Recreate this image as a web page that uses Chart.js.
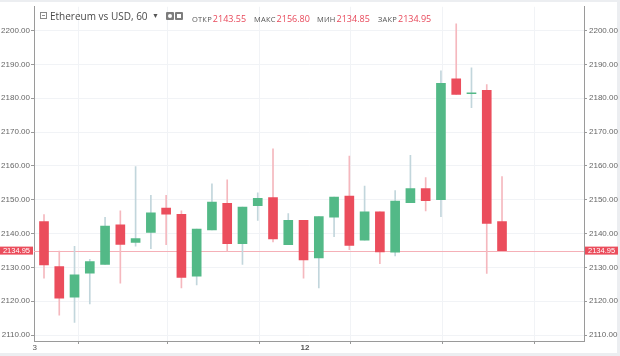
<!DOCTYPE html>
<html><head><meta charset="utf-8">
<script src="https://cdn.jsdelivr.net/npm/chart.js@4"></script>
<style>
html,body{margin:0;padding:0;background:#fff;}
#wrap{position:relative;width:620px;height:356px;overflow:hidden;}
#c{position:absolute;left:0;top:0;}
.h{position:absolute;top:9px;height:14px;line-height:14px;white-space:nowrap;font-family:'Open Sans',sans-serif;}
.title{font-size:10px;color:#4a4a4a;}
.lab{font-size:7.5px;color:#555;letter-spacing:0.2px;}
.val{font-size:9px;color:#e8485a;margin-left:1px;}
.ico{position:absolute;box-sizing:border-box;}
</style></head>
<body>
<div id="wrap">
<canvas id="c" width="620" height="356"></canvas>
<div class="ico" style="left:40px;top:12px;width:7px;height:7px;border:1px solid #8a8a8a;"><div style="position:absolute;left:1px;top:2px;width:3px;height:1px;background:#8a8a8a"></div></div>
<div class="h title" id="title" style="left:50px;"></div>
<div class="h" style="left:152px;font-size:7px;color:#555;">&#9660;</div>
<div class="ico" style="left:166px;top:12px;width:8px;height:8px;background:#7d7d7d;border-radius:1px;"><div style="position:absolute;left:2px;top:2px;width:4px;height:4px;border-radius:2px;background:#fff"></div></div>
<div class="ico" style="left:175px;top:12px;width:8px;height:8px;background:#7d7d7d;border-radius:1px;"><div style="position:absolute;left:2px;top:2px;width:4px;height:4px;background:#fff"></div></div>
<div id="hdr"></div>
</div>
<script>
// ---- data (hourly candles) ----
const opens  = [2143.5,2130.2,2121.2,2128.3,2130.9,2142.6,2137.4,2140.3,2147.5,2145.7,2127.4,2141.1,2148.9,2137.0,2148.2,2150.6,2136.7,2143.9,2132.8,2144.8,2151.1,2138.0,2146.4,2134.5,2149.1,2153.3,2150.0,2185.7,2181.3,2182.3,2143.55];
const highs  = [2145.6,2134.8,2136.2,2132.4,2144.8,2146.7,2159.8,2151.3,2151.3,2146.7,2141.3,2154.7,2155.9,2147.8,2152.0,2165.0,2145.9,2143.9,2145.0,2150.8,2162.9,2154.0,2146.4,2152.7,2163.1,2156.5,2188.1,2202.0,2189.0,2184.0,2156.80];
const lows   = [2126.8,2115.9,2113.7,2119.2,2130.9,2125.3,2136.3,2135.5,2136.7,2123.9,2124.8,2141.1,2134.8,2130.9,2143.9,2137.5,2136.7,2126.8,2123.9,2139.1,2135.2,2138.0,2131.1,2133.4,2149.1,2146.7,2145.0,2181.1,2177.2,2128.2,2134.85];
const closes = [2130.7,2120.9,2127.8,2131.7,2142.2,2136.8,2138.5,2146.1,2145.7,2127.0,2141.3,2149.3,2137.0,2147.8,2150.4,2138.4,2143.9,2132.2,2145.0,2150.8,2136.5,2146.4,2134.6,2149.6,2153.3,2149.7,2184.4,2181.1,2181.6,2143.0,2134.95];
const yTicks = [2110,2120,2130,2140,2150,2160,2170,2180,2190,2200];
const xTickValues = [-0.6,5.1,11.1,17.1,23.1,29.1,35.1];
const xTickLabels = ['3','','','12','','',''];
const xTickBold   = [false,false,false,true,false,false,false];
const titleText = 'Ethereum vs USD, 60';
const headerLabels = ['ОТКР','МАКС','МИН','ЗАКР'];

// ---- styling ----
const UP='#53b987', DN='#eb4d5c', WUP='#c2d6dc', WDN='#f5b8be';
const GRID='#f1f3f6', AXIS='#9a9a9a', TXT='#666';
const Y_MIN=2108.24, Y_MAX=2207.0, X_MIN=-0.655, X_MAX=35.37;

document.getElementById('title').textContent = titleText;
const last = opens.length-1;
const hv = [opens[last],highs[last],lows[last],closes[last]];
const hx = [192,254,317,378];
const hdr = document.getElementById('hdr');
headerLabels.forEach((l,i)=>{
  const d=document.createElement('div'); d.className='h'; d.style.left=hx[i]+'px';
  d.innerHTML='<span class="lab">'+l+'</span><span class="val">'+hv[i].toFixed(2)+'</span>';
  hdr.appendChild(d);
});

const up = opens.map((o,i)=>closes[i]>=o);
const bodyData = opens.map((o,i)=>({x:i,y:[o,closes[i]]}));
const wickData = opens.map((o,i)=>({x:i,y:[lows[i],highs[i]]}));

const deco = {
  id:'deco',
  beforeDraw(ch){
    const c=ch.ctx; c.save();
    c.fillStyle='#eceef1'; c.fillRect(0,0,620,356);
    c.fillStyle='#fff'; c.fillRect(0,2,617,351);
    c.restore();
  },
  beforeDatasetsDraw(ch){
    const c=ch.ctx, a=ch.chartArea, y=Math.round(ch.scales.y.getPixelForValue(closes[last]))+0.5;
    c.save(); c.strokeStyle='#f5b0b7'; c.lineWidth=1;
    c.beginPath(); c.moveTo(a.left,y); c.lineTo(a.right,y); c.stroke(); c.restore();
  },
  afterDraw(ch){
    const c=ch.ctx, a=ch.chartArea, y=ch.scales.y.getPixelForValue(closes[last]);
    const t=closes[last].toFixed(2);
    c.save();
    c.fillStyle='#eb4d5c';
    c.fillRect(0,y-4,a.left-1,8);
    c.fillRect(a.right+1,y-4,33,8);
    c.fillStyle='#fff'; c.font='7.5px "Liberation Sans", Arial, sans-serif';
    c.textBaseline='middle';
    c.textAlign='right'; c.fillText(t,a.left-4,y+0.5);
    c.textAlign='left'; c.fillText(t,a.right+4,y+0.5);
    c.restore();
  }
};

const yCommon = (pos,w,onArea)=>({
  type:'linear', position:pos, min:Y_MIN, max:Y_MAX,
  afterBuildTicks:s=>{s.ticks=yTicks.map(v=>({value:v}));},
  afterFit:s=>{s.width=w;},
  grid:{color:GRID, drawOnChartArea:onArea, tickColor:AXIS, tickLength:3},
  border:{color:AXIS},
  ticks:{padding:pos==='left'?1:2, color:TXT, font:{size:8, family:'"Liberation Sans", Arial, sans-serif'}, callback:v=>Number(v).toFixed(2)}
});

new Chart(document.getElementById('c'),{
  type:'bar',
  data:{datasets:[
    {data:wickData, backgroundColor:up.map(u=>u?WUP:WDN), barThickness:1, grouped:false, order:2, borderSkipped:false},
    {data:bodyData, backgroundColor:up.map(u=>u?UP:DN), barThickness:9, grouped:false, order:1, minBarLength:1, borderSkipped:false}
  ]},
  options:{
    responsive:false, animation:false, devicePixelRatio:1,
    layout:{padding:{top:2,left:0,right:0,bottom:0}},
    plugins:{legend:{display:false}, tooltip:{enabled:false}},
    scales:{
      x:{type:'linear', min:X_MIN, max:X_MAX, offset:false,
        afterBuildTicks:s=>{s.ticks=xTickValues.map(v=>({value:v}));},
        afterFit:s=>{s.height=15;},
        grid:{color:GRID, tickColor:AXIS, tickLength:3},
        border:{color:AXIS},
        ticks:{autoSkip:false, maxRotation:0, padding:-1, color:'#555',
          font:c=>({size:8, family:'"Liberation Sans", Arial, sans-serif', weight:xTickBold[c.index]?'bold':'normal'}),
          callback:(v,i)=>xTickLabels[i]}
      },
      y:yCommon('left',34,true),
      y2:yCommon('right',36,false)
    }
  },
  plugins:[deco]
});
</script>
</body></html>
